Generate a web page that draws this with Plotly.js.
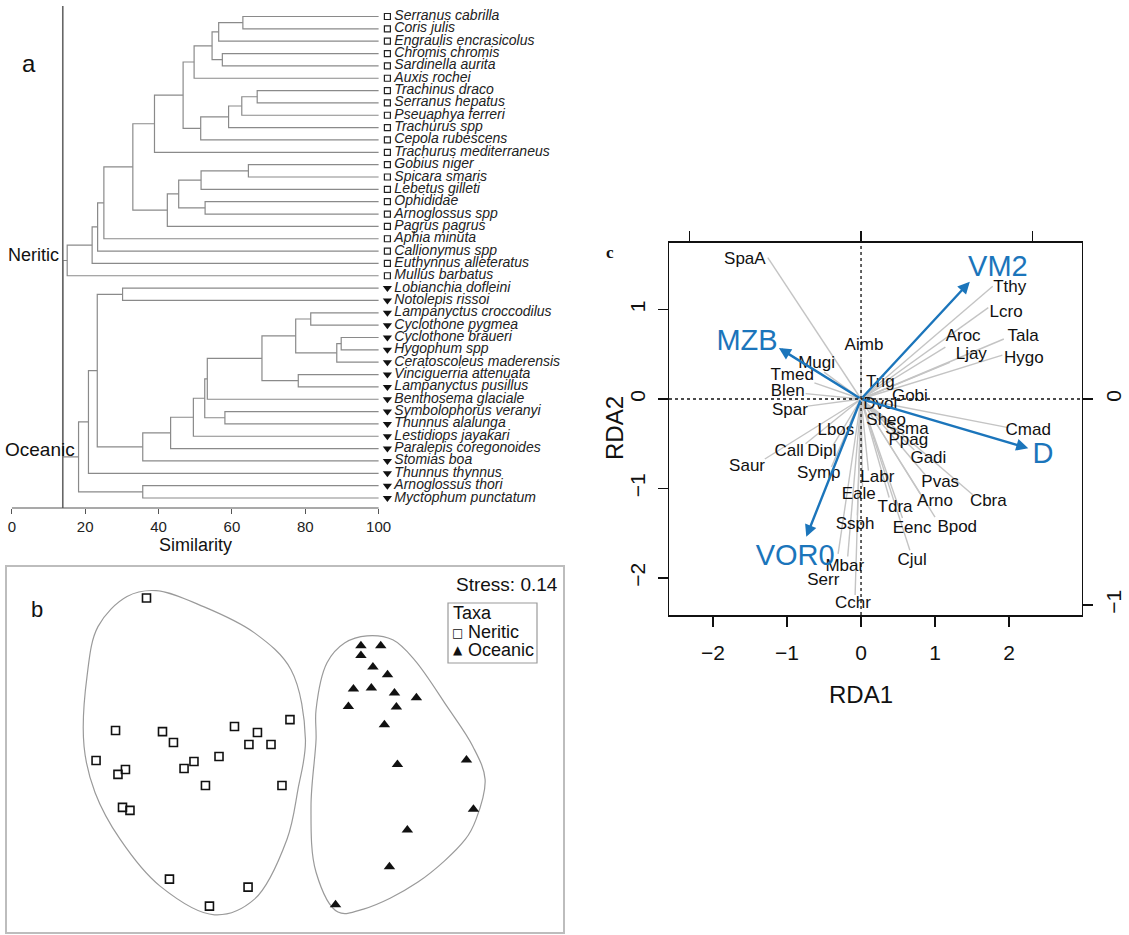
<!DOCTYPE html>
<html><head><meta charset="utf-8">
<script src="https://cdn.plot.ly/plotly-3.0.1.min.js"></script>
<style>html,body{margin:0;padding:0;background:#fff}</style>
</head><body><div id="chart" style="width:1129px;height:935px"></div>
<script>
// ================= Panel a : dendrogram data =================
const leafNames = ["Serranus cabrilla","Coris julis","Engraulis encrasicolus","Chromis chromis","Sardinella aurita","Auxis rochei","Trachinus draco","Serranus hepatus","Pseuaphya ferreri","Trachurus spp","Cepola rubescens","Trachurus mediterraneus","Gobius niger","Spicara smaris","Lebetus gilleti","Ophididae","Arnoglossus spp","Pagrus pagrus","Aphia minuta","Callionymus spp","Euthynnus alleteratus","Mullus barbatus","Lobianchia dofleini","Notolepis rissoi","Lampanyctus croccodilus","Cyclothone pygmea","Cyclothone braueri","Hygophum spp","Ceratoscoleus maderensis","Vinciguerria attenuata","Lampanyctus pusillus","Benthosema glaciale","Symbolophorus veranyi","Thunnus alalunga","Lestidiops jayakari","Paralepis coregonoides","Stomias boa","Thunnus thynnus","Arnoglossus thori","Myctophum punctatum"];
const leafTaxa = ["N","N","N","N","N","N","N","N","N","N","N","N","N","N","N","N","N","N","N","N","N","N","O","O","O","O","O","O","O","O","O","O","O","O","O","O","O","O","O","O"];
// hclust-style merges: negative = leaf (display order), positive = earlier merge
const mergeLeft  = [-1, 1,-4, 2, 4,-7, 6, 7, 8, 5,10,-13,12,-16,13,15,11,17,18,19,20,-23,-25,-27,24,23,-30,26,28,-33,29,31,32,33,22,35,-39,36,21];
const mergeRight = [-2,-3,-5, 3,-6,-8,-9,-10,-11, 9,-12,-14,-15,-17,14,-18,16,-19,-20,-21,-22,-24,-26,-28,-29,25,-31,27,-32,-34,30,-35,-36,-37,34,-38,-40,37,38];
const mergeSim   = [63.0,56.4,57.4,54.6,49.7,66.9,62.7,59.1,51.5,46.7,38.9,64.5,51.6,52.7,45.5,42.4,33.0,25.1,23.4,21.9,15.1,30.2,81.5,89.8,88.6,77.4,78.1,68.2,53.3,58.1,52.6,49.5,43.3,35.7,23.3,20.9,35.7,18.2,13.9];
const cutoffSim = 13.9;
const simTicks = [0,20,40,60,80,100];

// ================= Panel b : NMDS data =================
const neriticX = [-0.795,-0.973,-0.703,-0.640,-0.289,-0.157,-0.206,-0.079,0.030,-1.085,-0.916,-0.959,-0.522,-0.579,-0.378,-0.456,-0.016,-0.933,-0.890,-0.663,-0.211,-0.433];
const neriticY = [0.872,0.109,0.103,0.040,0.132,0.098,0.029,0.029,0.172,-0.063,-0.115,-0.143,-0.069,-0.109,-0.040,-0.207,-0.207,-0.333,-0.350,-0.746,-0.792,-0.901];
const oceanicX = [0.438,0.552,0.438,0.507,0.591,0.395,0.498,0.631,0.757,0.366,0.642,0.573,0.648,1.045,1.085,0.705,0.602,0.292];
const oceanicY = [0.597,0.597,0.541,0.474,0.430,0.348,0.354,0.325,0.298,0.248,0.245,0.143,-0.086,-0.061,-0.344,-0.463,-0.675,-0.893];
const hullNeriticX = [-0.740,-0.467,-0.174,0.036,0.119,0.076,0.013,-0.174,-0.404,-0.717,-0.947,-1.091,-1.154,-1.137,-1.074,-0.907];
const hullNeriticY = [0.914,0.822,0.671,0.459,0.057,-0.229,-0.516,-0.861,-0.951,-0.786,-0.516,-0.247,0.017,0.421,0.707,0.880];
const hullOceanicX = [0.473,0.621,0.746,0.933,1.081,1.152,1.100,1.039,0.766,0.453,0.306,0.180,0.151,0.180,0.180,0.243,0.346];
const hullOceanicY = [0.654,0.631,0.516,0.248,0.019,-0.172,-0.402,-0.516,-0.763,-0.918,-0.935,-0.706,-0.325,0.057,0.229,0.499,0.614];
const stressValue = "0.14";

// ================= Panel c : RDA biplot data =================
const speciesCodes = ["SpaA","Aimb","Mugi","Tmed","Blen","Spar","Lbos","Call","Dipl","Saur","Symp","Labr","Eale","Ssph","Mbar","Serr","Cchr","Trig","Gobi","Dvol","Sheo","Ssma","Ppag","Gadi","Pvas","Arno","Cbra","Tdra","Eenc","Bpod","Cjul","Tthy","Lcro","Aroc","Tala","Ljay","Hygo","Cmad"];
const speciesRDA1 = [-1.26,0.00,-0.50,-0.63,-0.75,-0.72,-0.15,-0.75,-0.38,-1.30,-0.40,0.10,0.02,-0.05,-0.18,-0.31,-0.08,0.12,0.42,0.12,0.18,0.42,0.46,0.72,0.88,0.80,1.51,0.38,0.56,1.00,0.66,1.78,1.72,1.14,1.93,1.20,1.91,1.99];
const speciesRDA2 = [1.58,0.46,0.30,0.18,0.06,-0.08,-0.27,-0.50,-0.52,-0.67,-0.76,-0.80,-0.98,-1.30,-1.76,-1.73,-2.19,0.11,0.00,-0.04,-0.17,-0.27,-0.38,-0.57,-0.86,-1.06,-1.07,-1.10,-1.33,-1.32,-1.69,1.26,1.02,0.58,0.67,0.41,0.49,-0.32];
const speciesLabelRDA1 = [-1.57,0.04,-0.60,-0.93,-0.99,-0.96,-0.34,-0.97,-0.53,-1.54,-0.57,0.22,-0.03,-0.08,-0.22,-0.51,-0.11,0.26,0.66,0.26,0.34,0.62,0.64,0.91,1.07,1.00,1.72,0.46,0.69,1.30,0.69,2.01,1.96,1.38,2.19,1.49,2.20,2.26];
const speciesLabelRDA2 = [1.56,0.60,0.39,0.26,0.08,-0.13,-0.36,-0.59,-0.59,-0.76,-0.84,-0.88,-1.07,-1.41,-1.87,-2.03,-2.29,0.18,0.02,-0.07,-0.24,-0.34,-0.47,-0.67,-0.94,-1.15,-1.15,-1.22,-1.45,-1.44,-1.81,1.24,0.96,0.69,0.69,0.49,0.45,-0.36];
const envNames = ["VM2","MZB","D","VOR0"];
const envRDA1 = [1.47,-1.11,2.26,-0.74];
const envRDA2 = [1.31,0.57,-0.55,-1.54];
const envLabelRDA1 = [1.85,-1.54,2.46,-0.89];
const envLabelRDA2 = [1.46,0.63,-0.63,-1.77];
const rdaTicksX = [-2,-1,0,1,2];
const rdaTicksY = [-2,-1,0,1];
const topTicks = [-1,0,1];
const rightTicks = [-1,0];

// ================= Build =================
const W = 1129, H = 935;
const F = "Liberation Sans, Arial, sans-serif";
const BLUE = "#1b75bb";
const pxX = v => v / W;
const pxY = v => 1 - v / H;

// panel a scale: 0 -> 11.8 px, 100 -> 378.6 px; axis extended to the right for the leaf labels
const aLeft = 11.8, aRight100 = 378.6, aDomainRight = 600;
const aPerUnit = (aRight100 - aLeft) / 100;
const aRangeMax = (aDomainRight - aLeft) / aPerUnit;

const traces = [];

// --- dendrogram segments from merges
const nodeY = [];
function nodePos(id) {
  if (id < 0) return {x: 100, y: -id};
  return {x: mergeSim[id - 1], y: nodeY[id - 1]};
}
const dX = [], dY = [];
for (let k = 0; k < mergeSim.length; k++) {
  const a = nodePos(mergeLeft[k]), b = nodePos(mergeRight[k]), h = mergeSim[k];
  dX.push(a.x, h, h, b.x, null);
  dY.push(a.y, a.y, b.y, b.y, null);
  nodeY[k] = (a.y + b.y) / 2;
}
traces.push({x: dX, y: dY, xaxis: 'x', yaxis: 'y', mode: 'lines', line: {color: '#8a8a8a', width: 1.2}, hoverinfo: 'skip', showlegend: false});
const yTopIdx = 0.15, yBotIdx = 40.81;
traces.push({x: [cutoffSim, cutoffSim], y: [yTopIdx, yBotIdx], xaxis: 'x', yaxis: 'y', mode: 'lines', line: {color: '#666', width: 1.6}, hoverinfo: 'skip', showlegend: false});

const leafIdx = leafNames.map((_, i) => i + 1);
const nIdx = leafIdx.filter((_, i) => leafTaxa[i] === 'N');
const oIdx = leafIdx.filter((_, i) => leafTaxa[i] === 'O');
traces.push({x: nIdx.map(() => 102.4), y: nIdx, xaxis: 'x', yaxis: 'y', mode: 'markers',
  marker: {symbol: 'square-open', size: 6, color: '#222', line: {width: 1.2, color: '#222'}}, hoverinfo: 'skip', showlegend: false});
traces.push({x: oIdx.map(() => 102.4), y: oIdx, xaxis: 'x', yaxis: 'y', mode: 'markers',
  marker: {symbol: 'triangle-down', size: 8, color: '#111'}, hoverinfo: 'skip', showlegend: false});
traces.push({x: leafIdx.map(() => 104.3), y: leafIdx, text: leafNames, xaxis: 'x', yaxis: 'y', mode: 'text', cliponaxis: false,
  textposition: 'middle right', textfont: {family: F, size: 14, color: '#222', style: 'italic'}, hoverinfo: 'skip', showlegend: false});

// --- panel b
function closeLoop(arr) { return arr.concat([arr[0]]); }
traces.push({x: closeLoop(hullNeriticX), y: closeLoop(hullNeriticY), xaxis: 'x2', yaxis: 'y2', mode: 'lines',
  line: {color: '#9a9a9a', width: 1.2, shape: 'spline', smoothing: 1.0}, hoverinfo: 'skip', showlegend: false});
traces.push({x: closeLoop(hullOceanicX), y: closeLoop(hullOceanicY), xaxis: 'x2', yaxis: 'y2', mode: 'lines',
  line: {color: '#9a9a9a', width: 1.2, shape: 'spline', smoothing: 1.0}, hoverinfo: 'skip', showlegend: false});
traces.push({x: neriticX, y: neriticY, xaxis: 'x2', yaxis: 'y2', mode: 'markers',
  marker: {symbol: 'square-open', size: 8, color: '#111', line: {width: 1.6, color: '#111'}}, hoverinfo: 'skip', showlegend: false});
traces.push({x: oceanicX, y: oceanicY, xaxis: 'x2', yaxis: 'y2', mode: 'markers',
  marker: {symbol: 'triangle-up', size: 10, color: '#111'}, hoverinfo: 'skip', showlegend: false});

// --- panel c
const sX = [], sY = [];
speciesCodes.forEach((_, i) => { sX.push(0, speciesRDA1[i], null); sY.push(0, speciesRDA2[i], null); });
traces.push({x: sX, y: sY, xaxis: 'x3', yaxis: 'y3', mode: 'lines', line: {color: '#c4c4c4', width: 1.4}, hoverinfo: 'skip', showlegend: false});
traces.push({x: speciesLabelRDA1, y: speciesLabelRDA2, text: speciesCodes, xaxis: 'x3', yaxis: 'y3', mode: 'text',
  textposition: 'middle center', textfont: {family: F, size: 17, color: '#111'}, hoverinfo: 'skip', showlegend: false, cliponaxis: false});
traces.push({x: envLabelRDA1, y: envLabelRDA2, text: envNames, xaxis: 'x3', yaxis: 'y3', mode: 'text',
  textposition: 'middle center', textfont: {family: F, size: 29, color: BLUE}, hoverinfo: 'skip', showlegend: false, cliponaxis: false});
// dummy traces to activate the top and right axes
traces.push({x: [0], y: [0], xaxis: 'x4', yaxis: 'y3', mode: 'markers', marker: {opacity: 0}, hoverinfo: 'skip', showlegend: false});
traces.push({x: [0], y: [0], xaxis: 'x3', yaxis: 'y4', mode: 'markers', marker: {opacity: 0}, hoverinfo: 'skip', showlegend: false});

const annotations = [];
envNames.forEach((n, i) => {
  annotations.push({x: envRDA1[i], y: envRDA2[i], ax: 0, ay: 0, xref: 'x3', yref: 'y3', axref: 'x3', ayref: 'y3',
    showarrow: true, arrowhead: 2, arrowsize: 1, arrowwidth: 2.4, arrowcolor: BLUE, text: '', standoff: 0});
});

function label(text, x, y, size, opts) {
  annotations.push(Object.assign({text: text, x: pxX(x), y: pxY(y), xref: 'paper', yref: 'paper', showarrow: false,
    font: {family: F, size: size, color: '#111'}, xanchor: 'center', yanchor: 'middle'}, opts || {}));
}
// panel a labels
label('a', 29, 63, 24);
label('Neritic', 61, 255, 18, {xanchor: 'right'});
label('Oceanic', 3, 450, 19, {xanchor: 'left'});
label('Similarity', 195, 545, 18);
// panel b labels
label('b', 37, 609, 22);
label('Stress: ' + stressValue, 560, 584, 19, {xanchor: 'right'});
label('Taxa', 451, 613, 18, {xanchor: 'left'});
label('Neritic', 466, 631.5, 18, {xanchor: 'left'});
label('Oceanic', 466, 649.5, 18, {xanchor: 'left'});
label('\u25A1', 457.5, 633, 12, {font: {family: 'DejaVu Sans', size: 12, color: '#111'}});
label('\u25B2', 457.5, 650, 12, {font: {family: 'DejaVu Sans', size: 12, color: '#111'}});
// panel c labels
label('<b>c</b>', 610, 252, 17, {font: {family: 'Liberation Serif, Times New Roman, serif', size: 17, color: '#111'}});
label('RDA1', 861, 694, 24);
label('RDA2', 614, 428, 24, {textangle: -90});

const shapes = [
  // similarity axis line, only from 0 to 100
  {type: 'line', xref: 'x', yref: 'y domain', x0: 0, x1: 100, y0: 0, y1: 0, line: {color: '#555', width: 1.2}},
  {type: 'rect', xref: 'paper', yref: 'paper', x0: pxX(448), x1: pxX(537), y0: pxY(603), y1: pxY(663), line: {color: '#9a9a9a', width: 1.2}},
  {type: 'line', xref: 'x3', yref: 'y3 domain', x0: 0, x1: 0, y0: 0, y1: 1, line: {color: '#111', width: 1.3, dash: 'dot'}},
  {type: 'line', xref: 'x3 domain', yref: 'y3', x0: 0, x1: 1, y0: 0, y1: 0, line: {color: '#111', width: 1.3, dash: 'dot'}}
];

const axBase = {showgrid: false, zeroline: false, fixedrange: true, autorange: false};
const layout = {
  width: W, height: H, margin: {l: 0, r: 0, t: 0, b: 0}, paper_bgcolor: '#fff', plot_bgcolor: 'rgba(0,0,0,0)',
  showlegend: false, font: {family: F, color: '#111'},
  xaxis: Object.assign({}, axBase, {domain: [pxX(aLeft), pxX(aDomainRight)], range: [0, aRangeMax], anchor: 'y', tickvals: simTicks,
    ticks: 'outside', ticklen: 5, tickcolor: '#555', tickwidth: 1.2, showline: false,
    tickfont: {family: F, size: 15, color: '#222'}}),
  yaxis: Object.assign({}, axBase, {domain: [pxY(508), pxY(6)], range: [yBotIdx, yTopIdx], anchor: 'x', visible: false}),
  xaxis2: Object.assign({}, axBase, {domain: [pxX(6.5), pxX(563)], range: [-1.6, 1.6], anchor: 'y2', showline: true, mirror: true,
    linecolor: '#bdbdbd', linewidth: 2, showticklabels: false, ticks: ''}),
  yaxis2: Object.assign({}, axBase, {domain: [pxY(932), pxY(567)], range: [-1.05, 1.05], anchor: 'x2', showline: true, mirror: true,
    linecolor: '#bdbdbd', linewidth: 2, showticklabels: false, ticks: ''}),
  xaxis3: Object.assign({}, axBase, {domain: [pxX(669), pxX(1081.7)], range: [-2.595, 2.982], anchor: 'y3', tickvals: rdaTicksX,
    ticks: 'outside', ticklen: 10, tickwidth: 1.3, tickcolor: '#111', showline: true, linecolor: '#111', linewidth: 1.5,
    tickfont: {family: F, size: 21, color: '#111'}, ticklabelstandoff: 8}),
  yaxis3: Object.assign({}, axBase, {domain: [pxY(615), pxY(242.7)], range: [-2.413, 1.746], anchor: 'x3', tickvals: rdaTicksY,
    ticks: 'outside', ticklen: 10, tickwidth: 1.3, tickcolor: '#111', showline: true, linecolor: '#111', linewidth: 1.5,
    tickangle: -90, tickfont: {family: F, size: 21, color: '#111'}, ticklabelstandoff: 4}),
  xaxis4: Object.assign({}, axBase, {overlaying: 'x3', side: 'top', anchor: 'y3', range: [-1.118, 1.285], tickvals: topTicks,
    ticks: 'outside', ticklen: 10, tickwidth: 1.3, tickcolor: '#111', showline: true, linecolor: '#111', linewidth: 1.5, showticklabels: false}),
  yaxis4: Object.assign({}, axBase, {overlaying: 'y3', side: 'right', anchor: 'x3', range: [-1.049, 0.759], tickvals: rightTicks,
    ticks: 'outside', ticklen: 10, tickwidth: 1.3, tickcolor: '#111', showline: true, linecolor: '#111', linewidth: 1.5,
    tickangle: -90, tickfont: {family: F, size: 21, color: '#111'}, ticklabelstandoff: 3}),
  annotations: annotations,
  shapes: shapes
};

Plotly.newPlot('chart', traces, layout, {staticPlot: true, displayModeBar: false});
</script>
</body></html>
